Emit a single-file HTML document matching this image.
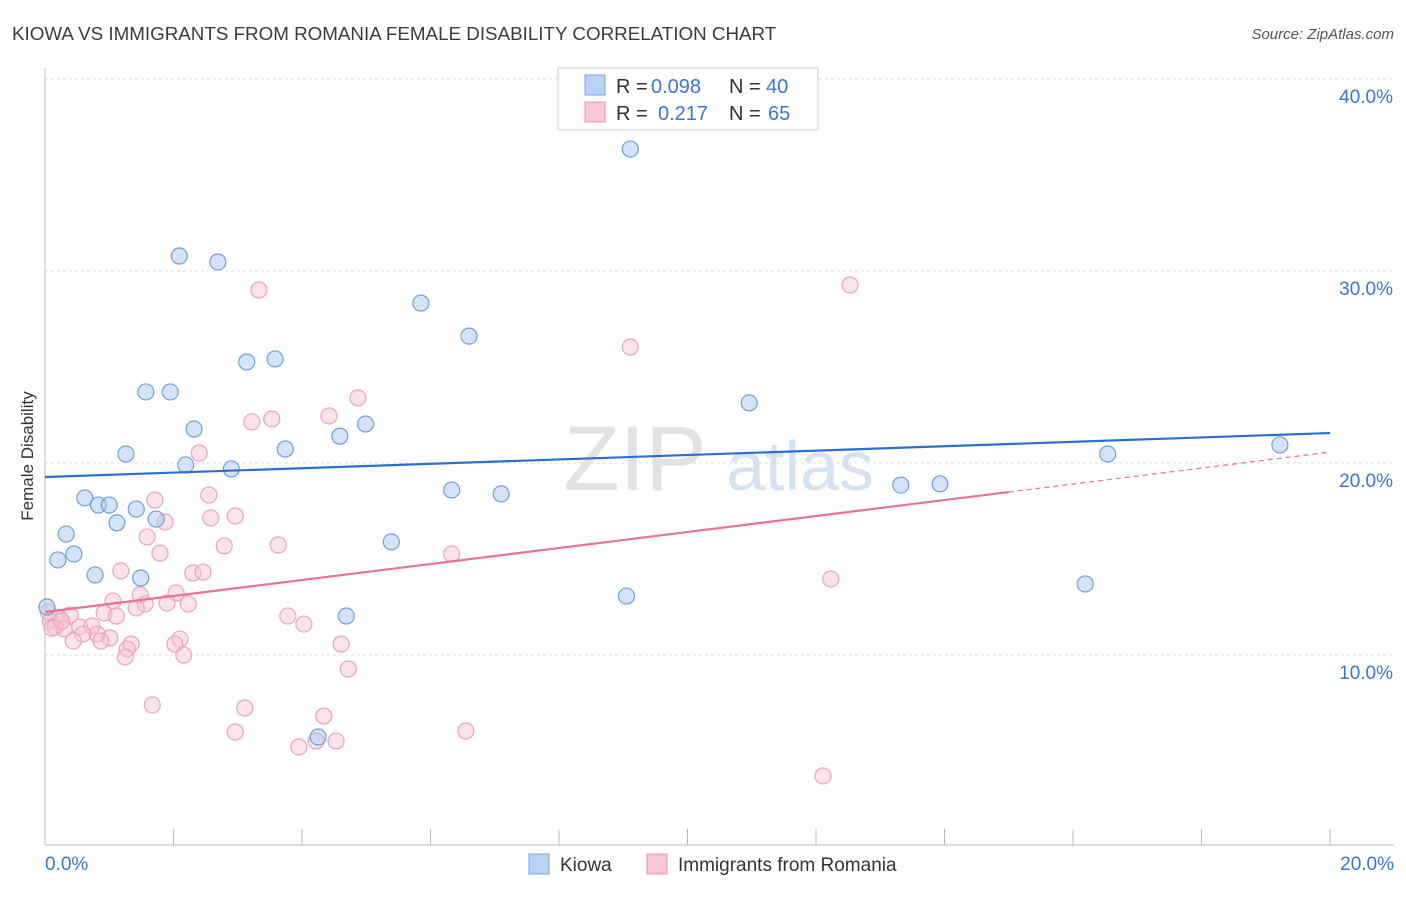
<!DOCTYPE html>
<html><head><meta charset="utf-8">
<style>
body{margin:0;background:#fff;font-family:"Liberation Sans",sans-serif;}
svg text{font-family:"Liberation Sans",sans-serif;}
</style></head>
<body>
<svg id="chart" width="1406" height="892" xmlns="http://www.w3.org/2000/svg">
<text x="12" y="40" font-size="18.8" fill="#3c3c3c">KIOWA VS IMMIGRANTS FROM ROMANIA FEMALE DISABILITY CORRELATION CHART</text>
<text x="1394" y="39" font-size="15" fill="#555" text-anchor="end" font-style="italic">Source: ZipAtlas.com</text>
<text x="33" y="456" font-size="17" fill="#333" text-anchor="middle" transform="rotate(-90 33 456)">Female Disability</text>
<g><text x="635" y="490" font-size="92" fill="#e2e2e2" text-anchor="middle" font-family="Liberation Serif">ZIP</text><text x="800" y="490" font-size="70" fill="#d6e2f2" text-anchor="middle">atlas</text></g>
<g id="grid"></g><g id="marks"></g>
<g>
<rect x="558" y="68" width="260" height="62" fill="#fff" stroke="#ccc"/>
<rect x="585" y="75" width="20" height="20" fill="#b8d3f5" stroke="#7aa6e0"/>
<rect x="585" y="102" width="20" height="20" fill="#fac8d8" stroke="#e890b0"/>
<text x="616" y="93" font-size="20" fill="#333">R =</text><text x="651" y="93" font-size="20" fill="#3a76d0">0.098</text>
<text x="729" y="93" font-size="20" fill="#333">N =</text><text x="766" y="93" font-size="20" fill="#3a76d0">40</text>
<text x="616" y="120" font-size="20" fill="#333">R =</text><text x="658" y="120" font-size="20" fill="#3a76d0">0.217</text>
<text x="729" y="120" font-size="20" fill="#333">N =</text><text x="768" y="120" font-size="20" fill="#3a76d0">65</text>
</g>
<g>
<rect x="529" y="854" width="20" height="20" fill="#b8d3f5" stroke="#7aa6e0"/>
<text x="560" y="871" font-size="19" fill="#333">Kiowa</text>
<rect x="647" y="854" width="20" height="20" fill="#fac8d8" stroke="#e890b0"/>
<text x="678" y="871" font-size="19" fill="#333">Immigrants from Romania</text>
</g>
</svg>
<script>
const xTickLabels=["0.0%","20.0%"];
const yTicks=[10,20,30,40];
const kiowaX=[9.11,2.09,2.69,5.85,6.6,3.14,3.58,1.57,1.95,10.96,2.32,4.99,4.59,1.26,3.74,2.19,2.9,19.22,16.54,6.33,7.1,13.32,13.93,0.62,0.83,1.0,1.42,1.73,1.12,0.33,0.45,0.2,0.78,1.49,5.39,9.05,16.19,4.69,0.03,4.25];
const kiowaY=[36.35,30.78,30.47,28.33,26.61,25.26,25.42,23.7,23.7,23.13,21.77,22.03,21.4,20.47,20.73,19.9,19.69,20.94,20.47,18.59,18.39,18.85,18.91,18.18,17.81,17.81,17.6,17.08,16.88,16.3,15.26,14.95,14.17,14.01,15.89,13.07,13.7,12.03,12.5,5.73];
const romX=[12.53,3.33,9.11,4.87,4.42,3.53,3.22,2.4,2.55,1.71,1.87,2.58,2.96,1.79,2.79,3.63,6.33,1.59,1.18,2.3,2.46,12.23,1.48,2.04,1.06,1.56,1.9,2.23,1.42,0.92,1.11,3.78,4.03,0.39,0.22,0.08,0.16,0.3,0.54,0.73,0.81,0.59,1.01,0.87,0.44,1.34,2.1,2.02,1.28,2.16,1.25,4.61,4.72,1.67,3.11,2.96,4.34,3.95,4.22,4.53,6.55,12.11,0.05,0.11,0.26];
const romY=[29.27,29.01,26.04,23.39,22.45,22.29,22.14,20.52,18.33,18.07,16.93,17.14,17.24,15.31,15.68,15.73,15.26,16.15,14.38,14.27,14.32,13.96,13.13,13.23,12.81,12.66,12.71,12.66,12.45,12.19,12.03,12.03,11.61,12.08,11.93,11.77,11.46,11.35,11.46,11.51,11.09,11.09,10.89,10.73,10.73,10.57,10.83,10.57,10.31,10.0,9.9,10.57,9.27,7.40,7.24,5.99,6.82,5.21,5.52,5.52,6.04,3.70,12.24,11.4,11.77];
const kiowaTrend=[19.27,21.56];
const romTrend=[12.24,20.57];
const X=v=>45+v*64.25, Y=v=>655-(v-10)*19.2;
const NS="http://www.w3.org/2000/svg";
function mk(t,a,p){const e=document.createElementNS(NS,t);for(const k in a)e.setAttribute(k,a[k]);p.appendChild(e);return e;}
const g=document.getElementById('grid'), m=document.getElementById('marks');
yTicks.forEach(t=>{
const l=mk('line',{x1:45,x2:1394,y1:Y(t),y2:Y(t),stroke:'#ddd','stroke-dasharray':'3,3'},g);


const tx=mk('text',{x:1393,y:Y(t)+24,'font-size':19,fill:'#3a76d0','text-anchor':'end'},g);
tx.textContent=t.toFixed(1)+'%';


});
const ax=mk('line',{x1:45,x2:45,y1:68,y2:845,stroke:'#bbb'},g);


const bx=mk('line',{x1:45,x2:1394,y1:845,y2:845,stroke:'#bbb'},g);


for(let i=0;i<=10;i++){const tk=mk('line',{x1:X(i*2),x2:X(i*2),y1:829,y2:845,stroke:'#bbb'},g);

}
const xl0=mk('text',{x:45,y:870,'font-size':19,fill:'#3a76d0'},g);xl0.textContent=xTickLabels[0];


const xl1=mk('text',{x:1394,y:870,'font-size':19,fill:'#3a76d0','text-anchor':'end'},g);xl1.textContent=xTickLabels[1];


romX.forEach((x,i)=>{const c=mk('circle',{cx:X(x),cy:Y(romY[i]),r:8,fill:'rgba(248,190,210,0.45)',stroke:'#eba3bd','stroke-width':1.2},m);

});
kiowaX.forEach((x,i)=>{const c=mk('circle',{cx:X(x),cy:Y(kiowaY[i]),r:8,fill:'rgba(170,200,240,0.5)',stroke:'#6f9fd8','stroke-width':1.2},m);

});
const kt=mk('line',{x1:X(0),y1:Y(kiowaTrend[0]),x2:X(20),y2:Y(kiowaTrend[1]),stroke:'#2a6fd0','stroke-width':2.2},m);


const f=15, ry=romTrend[0]+(romTrend[1]-romTrend[0])*f/20;
const rt=mk('line',{x1:X(0),y1:Y(romTrend[0]),x2:X(f),y2:Y(ry),stroke:'#e8709a','stroke-width':2.2},m);


const rd=mk('line',{x1:X(f),y1:Y(ry),x2:X(20),y2:Y(romTrend[1]),stroke:'#e8709a','stroke-width':1.2,'stroke-dasharray':'5,4'},m);


</script>
</body></html>
